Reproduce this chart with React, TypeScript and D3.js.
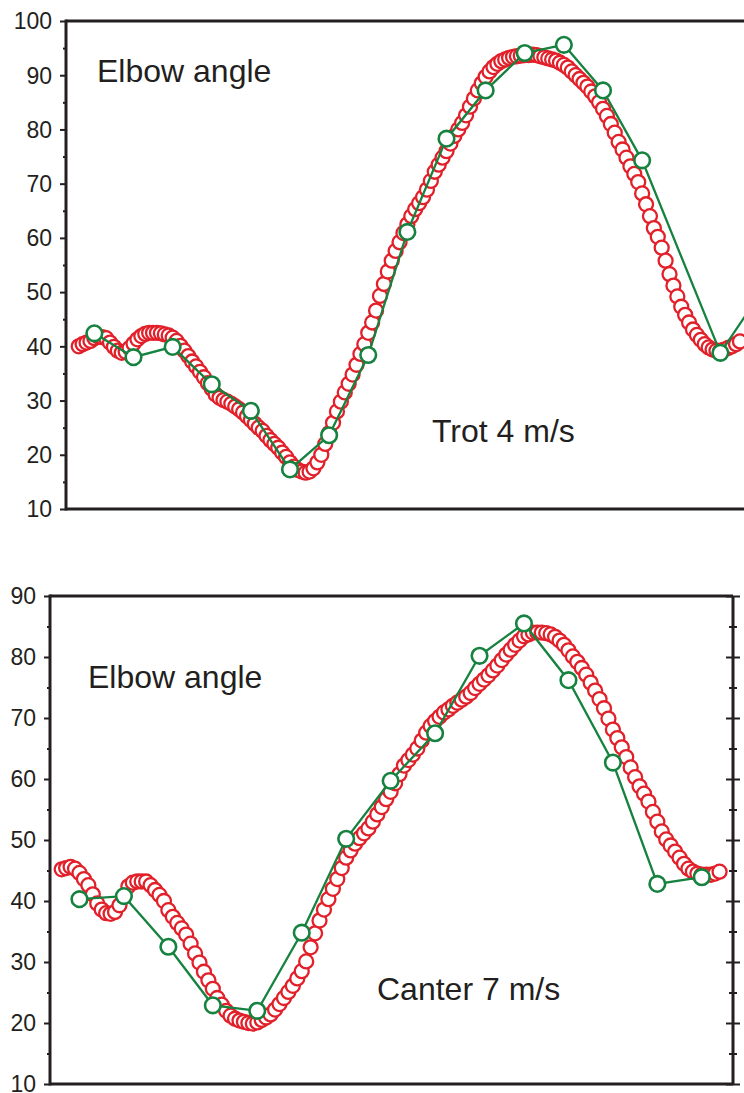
import React, { useEffect, useRef } from 'react';
import * as d3 from 'd3';

// red = high-rate samples (one per frame), green = low-rate samples
const trotRed = [
  40.0, 40.4, 40.7, 41.0, 41.5, 41.8, 41.7, 41.5, 40.7, 39.9,
  39.2, 38.8, 39.0, 39.7, 40.5, 41.3, 41.9, 42.3, 42.5, 42.5,
  42.5, 42.4, 42.2, 42.0, 41.6, 41.0, 40.1, 39.2, 38.2, 37.2,
  36.3, 35.3, 34.3, 33.2, 32.2, 31.1, 30.5, 30.1, 29.8, 29.4,
  28.9, 28.4, 27.8, 27.1, 26.4, 25.7, 25.0, 24.4, 23.5, 22.7,
  22.0, 21.3, 20.4, 19.6, 18.6, 17.8, 17.2, 16.9, 16.7, 16.9,
  17.5, 18.6, 20.0, 22.0, 24.0, 25.9, 28.0, 29.8, 31.5, 33.1,
  34.8, 36.6, 38.6, 40.4, 42.5, 44.4, 46.6, 49.3, 51.5, 53.8,
  55.8, 57.6, 59.2, 60.9, 62.5, 64.0, 65.3, 66.4, 67.5, 68.9,
  70.5, 72.2, 73.5, 74.8, 76.0, 77.4, 78.8, 80.0, 81.2, 82.6,
  84.2, 85.7, 87.2, 88.5, 89.7, 90.7, 91.5, 92.1, 92.6, 92.9,
  93.2, 93.4, 93.5, 93.6, 93.7, 93.7, 93.8, 93.7, 93.5, 93.3,
  93.1, 92.9, 92.7, 92.3, 91.9, 91.4, 90.7, 90.0, 89.3, 88.6,
  87.9, 87.0, 86.1, 85.0, 83.8, 82.5, 81.0, 79.4, 77.7, 76.3,
  74.8, 73.2, 71.8, 70.3, 68.2, 66.2, 64.0, 61.8, 60.2, 58.2,
  55.8, 53.3, 51.2, 49.2, 47.3, 45.8, 44.4, 43.1, 42.1, 41.2,
  40.4, 39.8, 39.4, 39.2, 39.2, 39.4, 39.7, 40.0, 40.4, 40.9
];
const trotGreenFrames = [4, 14, 24, 34, 44, 54, 64, 74, 84, 94, 104, 114, 124, 134, 144, 164, 174];
const trotGreen = [42.4, 38.0, 39.9, 33.0, 28.1, 17.3, 23.6, 38.4, 61.1, 78.3, 87.2, 94.1, 95.6, 87.2, 74.3, 38.8, 49.5];

const canterRed = [
  45.2, 45.4, 45.6, 45.3, 44.6, 43.6, 42.6, 41.1, 39.6, 38.6,
  38.0, 37.9, 38.2, 39.3, 40.8, 42.4, 43.0, 43.2, 43.2, 43.2,
  42.6, 41.8, 41.0, 40.0, 38.5, 37.4, 36.4, 35.5, 34.5, 33.0,
  31.4, 29.9, 28.4, 27.0, 25.6, 24.1, 23.0, 22.0, 21.2, 20.7,
  20.4, 20.2, 20.0, 19.9, 20.1, 20.5, 20.9, 21.4, 22.2, 23.1,
  24.1, 25.1, 26.1, 27.3, 28.5, 30.1, 32.4, 34.7, 36.8, 38.6,
  40.3, 42.0, 43.6, 45.4, 47.1, 48.3, 49.4, 50.3, 51.1, 51.9,
  53.0, 54.2, 55.4, 56.7, 57.9, 59.3, 60.8, 62.2, 63.1, 64.0,
  65.0, 66.3, 67.6, 68.7, 69.5, 70.2, 70.9, 71.4, 72.0, 72.5,
  73.0, 73.5, 74.1, 74.9, 75.6, 76.3, 77.0, 77.8, 78.6, 79.5,
  80.4, 81.2, 82.0, 82.7, 83.4, 83.7, 84.0, 84.0, 84.0, 83.9,
  83.7, 83.3, 82.7, 82.0, 81.1, 80.1, 79.2, 78.2, 77.1, 75.8,
  74.5, 73.1, 71.6, 69.9, 68.1, 66.7, 65.2, 63.6, 61.9, 60.3,
  58.8, 57.6, 56.3, 54.6, 53.0, 51.4, 50.1, 49.1, 48.1, 47.1,
  46.1, 45.3, 44.8, 44.5, 44.3, 44.3, 44.3, 44.5, 44.8
];
const canterGreenFrames = [4, 14, 24, 34, 44, 54, 64, 74, 84, 94, 104, 114, 124, 134, 144];
const canterGreen = [40.3, 40.8, 32.5, 22.9, 22.0, 34.8, 50.2, 59.7, 67.5, 80.2, 85.5, 76.2, 62.7, 42.8, 43.9];

const trotTicks = [10, 20, 30, 40, 50, 60, 70, 80, 90, 100];
const canterTicks = [10, 20, 30, 40, 50, 60, 70, 80, 90];

const RED = '#e2202a';
const GREEN = '#16823f';
const INK = '#231f20';
const FONT = '"Liberation Sans", Arial, sans-serif';

function drawPanel(svg, p) {
  const g = svg.append('g');
  const x = d3.scaleLinear().domain(p.xDomain).range([p.left, p.right]);
  const y = d3.scaleLinear().domain(p.yDomain).range([p.bottom, p.top]);

  const minors = d3.range(p.yDomain[0] + 5, p.yDomain[1], 10);

  // left axis: labelled majors + short minors
  const left = g.append('g').attr('transform', `translate(${p.left},0)`);
  left.call(d3.axisLeft(y).tickValues(p.ticks).tickSize(6).tickPadding(8).tickSizeOuter(0));
  left.append('g').call(d3.axisLeft(y).tickValues(minors).tickSize(3).tickFormat(() => ''));
  left.selectAll('.domain').remove();
  left.selectAll('line').attr('stroke', INK).attr('stroke-width', 2);
  left.selectAll('text')
    .attr('fill', INK)
    .attr('dy', '0.34em')
    .style('font-family', FONT)
    .style('font-size', '23px');

  if (p.rightAxis) {
    const right = g.append('g').attr('transform', `translate(${p.right},0)`);
    right.call(d3.axisRight(y).tickValues(p.ticks).tickSize(7).tickSizeOuter(0).tickFormat(() => ''));
    right.append('g').call(d3.axisRight(y).tickValues(minors).tickSize(4).tickFormat(() => ''));
    right.selectAll('.domain').remove();
    right.selectAll('line').attr('stroke', INK).attr('stroke-width', 2).attr('x1', function () {
      return -Number(d3.select(this).attr('x2'));
    });
    g.append('line')
      .attr('x1', p.right).attr('x2', p.right)
      .attr('y1', p.top).attr('y2', p.bottom)
      .attr('stroke', INK).attr('stroke-width', 3);
  }

  // frame lines
  g.append('line')
    .attr('x1', p.left).attr('x2', p.right).attr('y1', p.top).attr('y2', p.top)
    .attr('stroke', INK).attr('stroke-width', 3);
  g.append('line')
    .attr('x1', p.left).attr('x2', p.right).attr('y1', p.bottom).attr('y2', p.bottom)
    .attr('stroke', INK).attr('stroke-width', 3);
  g.append('line')
    .attr('x1', p.left).attr('x2', p.left).attr('y1', p.top - 1.5).attr('y2', p.bottom + 1.5)
    .attr('stroke', INK).attr('stroke-width', 3);

  // labels
  p.labels.forEach(l => {
    g.append('text')
      .attr('x', l.x).attr('y', l.y)
      .attr('fill', INK)
      .style('font-family', FONT)
      .style('font-size', '32px')
      .text(l.text);
  });

  // red samples
  g.append('g').selectAll('circle')
    .data(p.red)
    .join('circle')
    .attr('cx', (d, i) => x(i))
    .attr('cy', d => y(d))
    .attr('r', 7)
    .attr('fill', '#fff')
    .attr('stroke', RED)
    .attr('stroke-width', 2.3);

  const greenPts = p.greenFrames.map((f, i) => [f, p.green[i]]);
  const line = d3.line().x(d => x(d[0])).y(d => y(d[1]));
  g.append('path')
    .attr('d', line(greenPts))
    .attr('fill', 'none')
    .attr('stroke', GREEN)
    .attr('stroke-width', 2.3);
  g.append('g').selectAll('circle')
    .data(greenPts)
    .join('circle')
    .attr('cx', d => x(d[0]))
    .attr('cy', d => y(d[1]))
    .attr('r', 7.8)
    .attr('fill', '#fff')
    .attr('stroke', GREEN)
    .attr('stroke-width', 2.6);
}

export default function App() {
  const ref = useRef(null);

  useEffect(() => {
    const svg = d3.select(ref.current);
    svg.selectAll('*').remove();

    drawPanel(svg, {
      left: 66, right: 782, top: 21, bottom: 509,
      xDomain: [-3.25, 179.75], yDomain: [10, 100],
      ticks: trotTicks, red: trotRed,
      greenFrames: trotGreenFrames, green: trotGreen,
      rightAxis: false,
      labels: [
        { text: 'Elbow angle', x: 97, y: 82 },
        { text: 'Trot 4 m/s', x: 432, y: 442 }
      ]
    });

    drawPanel(svg, {
      left: 50, right: 733, top: 596, bottom: 1084,
      xDomain: [-2.63, 151.02], yDomain: [10, 90],
      ticks: canterTicks, red: canterRed,
      greenFrames: canterGreenFrames, green: canterGreen,
      rightAxis: true,
      labels: [
        { text: 'Elbow angle', x: 88, y: 688 },
        { text: 'Canter 7 m/s', x: 377, y: 1000 }
      ]
    });
  }, []);

  return (
    <svg
      ref={ref}
      width={744}
      height={1093}
      style={{ position: 'absolute', left: 0, top: 0, background: '#fff' }}
    />
  );
}
